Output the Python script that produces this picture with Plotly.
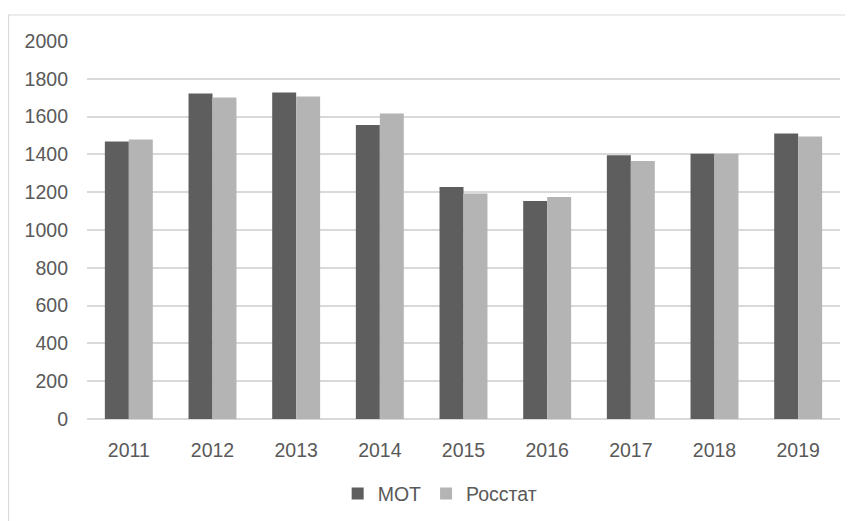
import plotly.graph_objects as go

years = ["2011", "2012", "2013", "2014", "2015", "2016", "2017", "2018", "2019"]
mot = [1468, 1722, 1727, 1555, 1228, 1154, 1395, 1404, 1511]
rosstat = [1479, 1701, 1707, 1616, 1193, 1175, 1365, 1404, 1495]
series_names = ["МОТ", "Росстат"]
y_ticks = [0, 200, 400, 600, 800, 1000, 1200, 1400, 1600, 1800, 2000]

font_family = "Liberation Sans, Arial, sans-serif"
text_color = "#595959"
grid_color = "#d9d9d9"

fig = go.Figure()
fig.add_trace(go.Bar(x=years, y=mot, name=series_names[0],
                     marker=dict(color="#5e5e5e", line=dict(width=0))))
fig.add_trace(go.Bar(x=years, y=rosstat, name=series_names[1],
                     marker=dict(color="#b3b4b3", line=dict(width=0))))

# The page body adds an 8px offset; margins compensate so the plot area
# lands at the reference position (x 87..840, y 41..419 in the window).
fig.update_layout(
    width=853, height=521,
    margin=dict(l=79, r=21, t=33, b=110, pad=0),
    paper_bgcolor="white", plot_bgcolor="white",
    font=dict(family=font_family, size=19.5, color=text_color),
    barmode="group", bargap=0.427, bargroupgap=0,
    showlegend=True,
    legend=dict(orientation="h", x=0.469, xanchor="center", y=-0.198, yanchor="middle",
                font=dict(size=19.5, color=text_color), itemwidth=30,
                bgcolor="rgba(0,0,0,0)"),
    xaxis=dict(showgrid=False, showline=False, ticks="", zeroline=False,
               tickfont=dict(size=19.5, color=text_color), ticklabelstandoff=17),
    yaxis=dict(range=[0, 2000], tickvals=y_ticks, showgrid=True, gridcolor=grid_color,
               gridwidth=1.5, zeroline=True, zerolinecolor=grid_color, zerolinewidth=1.5,
               showline=False, ticks="", tickfont=dict(size=19.5, color=text_color),
               ticklabelstandoff=18),
    shapes=[dict(type="rect", xref="paper", yref="paper",
                 x0=-0.1042, x1=1.2, y0=-0.6, y1=1.0688,
                 line=dict(color=grid_color, width=1.2), fillcolor="rgba(0,0,0,0)",
                 layer="below")],
)

fig.write_html("out.html")
